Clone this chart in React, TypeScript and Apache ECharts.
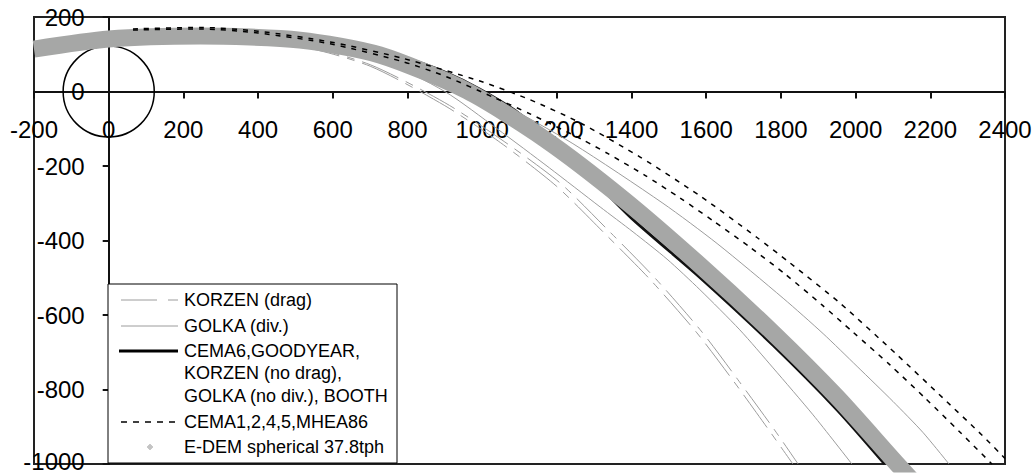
import React, { useEffect, useRef } from "react";
import * as echarts from "echarts";

// Axis ranges (mm)
const X_MIN = -200;
const X_MAX = 2400;
const X_STEP = 200;
const Y_MIN = -1000;
const Y_MAX = 200;
const Y_STEP = 200;

// Pulley outline: centre x, centre y, radius
const pulley = [[0, 0, 122]];

// KORZEN (drag) – two trajectories
const korzenDragA = [
  [0, 136], [245, 143], [512, 121], [700, 68], [900, -38], [1050, -138], [1200, -255],
  [1325, -378], [1450, -505], [1575, -648], [1672, -776], [1765, -905], [1832, -1000],
];
const korzenDragB = [
  [0, 138], [245, 145], [512, 124], [700, 72], [900, -30], [1050, -128], [1208, -245],
  [1337, -372], [1463, -501], [1589, -646], [1685, -774], [1779, -903], [1846, -1000],
];

// GOLKA (div.) – two trajectories
const golkaDivA = [
  [0, 138], [245, 146], [512, 130], [726, 85], [900, 0], [1040, -100], [1180, -205],
  [1316, -310], [1404, -377], [1495, -450], [1583, -532], [1690, -640], [1779, -742],
  [1886, -868], [1990, -1000],
];
const golkaDivB = [
  [0, 150], [245, 158], [512, 146], [750, 100], [900, 40], [1048, -30], [1243, -140],
  [1484, -300], [1629, -408], [1806, -555], [1913, -650], [2004, -738], [2100, -832],
  [2180, -915], [2250, -1000],
];

// CEMA6, GOODYEAR, KORZEN (no drag), GOLKA (no div.), BOOTH
const cema6 = [
  [0, 145], [245, 153], [512, 145], [646, 125], [800, 88], [900, 52], [994, 6],
  [1100, -60], [1250, -190], [1400, -340], [1583, -499], [1779, -681], [1950, -854],
  [2078, -1000],
];

// CEMA1,2,4,5, MHEA86 – two trajectories
const cemaDashedA = [
  [65, 168], [245, 172], [400, 162], [593, 133], [788, 89], [994, 28], [1128, -22],
  [1262, -84], [1423, -176], [1583, -280], [1736, -392], [1824, -460], [1958, -568],
  [2111, -707], [2234, -823], [2338, -922], [2400, -985],
];
const cemaDashedB = [
  [65, 165], [245, 168], [400, 157], [593, 128], [788, 80], [906, 39], [1029, -15],
  [1128, -60], [1270, -130], [1337, -167], [1436, -225], [1530, -286], [1618, -347],
  [1717, -418], [1811, -490], [1910, -573], [1993, -646], [2092, -734], [2186, -823],
  [2279, -914], [2365, -1000],
];

// E-DEM spherical 37.8tph – centre of the particle cloud
const edem = [
  [-200, 114], [0, 141], [245, 149], [512, 138], [726, 98], [959, 2], [1168, -128],
  [1377, -288], [1583, -466], [1779, -648], [1950, -820], [2111, -1000], [2180, -1075],
];

const legendLabels = [
  "KORZEN (drag)",
  "GOLKA (div.)",
  "CEMA6,GOODYEAR,",
  "KORZEN (no drag),",
  "GOLKA (no div.), BOOTH",
  "CEMA1,2,4,5,MHEA86",
  "E-DEM spherical 37.8tph",
];

const FONT = '"Liberation Sans", Arial, sans-serif';
const GRAY_LINE = "#9c9c9c";
const BAND = "#a6a7a6";

export default function App() {
  const ref = useRef<HTMLDivElement>(null);

  useEffect(() => {
    document.body.style.margin = "0";
    if (!ref.current) return;
    const chart = echarts.init(ref.current, null, { renderer: "svg" });

    const lineSeries = (name: string, data: number[][], lineStyle: any) => ({
      name,
      type: "line",
      data,
      symbol: "none",
      showSymbol: false,
      smooth: 0.25,
      lineStyle,
      silent: true,
    });

    const lx1 = 121;
    const lx2 = 178;
    const tx = 184;
    const legendGraphics: any[] = [
      {
        type: "rect",
        shape: { x: 108, y: 284, width: 289, height: 179 },
        style: { fill: "#fff", stroke: "#000", lineWidth: 1 },
        z: 100,
      },
      {
        type: "line",
        shape: { x1: lx1, y1: 300, x2: lx2, y2: 300 },
        style: { stroke: GRAY_LINE, lineWidth: 1, lineDash: [36, 11, 10, 40] },
        z: 101,
      },
      {
        type: "line",
        shape: { x1: lx1, y1: 326, x2: lx2, y2: 326 },
        style: { stroke: GRAY_LINE, lineWidth: 1 },
        z: 101,
      },
      {
        type: "line",
        shape: { x1: 119, y1: 351, x2: lx2, y2: 351 },
        style: { stroke: "#000", lineWidth: 3 },
        z: 101,
      },
      {
        type: "line",
        shape: { x1: lx1, y1: 422, x2: 176, y2: 422 },
        style: { stroke: "#000", lineWidth: 1.5, lineDash: [6, 6] },
        z: 101,
      },
      {
        type: "polygon",
        shape: { points: [[150, 444], [153, 447], [150, 450], [147, 447]] },
        style: { fill: "#c4c4c4", stroke: "#b0b0b0", lineWidth: 0.5 },
        z: 101,
      },
    ];
    const textYs = [300, 326, 351, 373, 396, 422, 447];
    legendLabels.forEach((t, i) => {
      legendGraphics.push({
        type: "text",
        x: tx,
        y: textYs[i],
        style: {
          text: t,
          fontFamily: FONT,
          fontSize: 18,
          fill: "#000",
          verticalAlign: "middle",
          align: "left",
        },
        z: 102,
      });
    });

    const axisLineStyle = { color: "#111", width: 2 };
    const plain = (v: number) => String(v);
    const yLabel = (v: number) => (v === Y_MIN ? "{low|" + v + "}" : String(v));

    chart.setOption({
      animation: false,
      backgroundColor: "#fff",
      grid: {
        left: 34,
        right: 29,
        top: 17,
        bottom: 11,
        show: true,
        borderColor: "#222",
        borderWidth: 2,
        containLabel: false,
        outerBoundsMode: "none",
      },
      xAxis: {
        type: "value",
        min: X_MIN,
        max: X_MAX,
        interval: X_STEP,
        offset: 0,
        axisLine: { show: true, onZero: false, lineStyle: axisLineStyle },
        axisTick: { show: true, length: 7, lineStyle: axisLineStyle },
        axisLabel: { color: "#000", fontFamily: FONT, fontSize: 24, margin: 26, formatter: plain },
        splitLine: { show: false },
      },
      yAxis: {
        type: "value",
        min: Y_MIN,
        max: Y_MAX,
        interval: Y_STEP,
        offset: 0,
        axisLine: { show: true, onZero: false, lineStyle: axisLineStyle },
        axisTick: { show: true, length: 6, lineStyle: axisLineStyle },
        axisLabel: {
          color: "#000",
          fontFamily: FONT,
          fontSize: 24,
          lineHeight: 18,
          margin: 24,
          formatter: yLabel,
          rich: {
            low: {
              fontFamily: FONT,
              fontSize: 24,
              lineHeight: 18,
              color: "#000",
              padding: [0, 0, 6, 0],
            },
          },
        },
        splitLine: { show: false },
      },
      graphic: { elements: legendGraphics },
      series: [
        {
          name: "pulley",
          type: "custom",
          data: pulley,
          silent: true,
          renderItem: (params: any, api: any) => {
            const c = api.coord([api.value(0), api.value(1)]);
            const s = api.size([api.value(2), api.value(2)]);
            return {
              type: "ellipse",
              shape: { cx: c[0], cy: c[1], rx: s[0], ry: s[1] },
              style: { fill: "none", stroke: "#000", lineWidth: 1.5 },
            };
          },
        },
        lineSeries("KORZEN (drag) 1", korzenDragA, { color: GRAY_LINE, width: 1, type: [40, 8, 8, 8] }),
        lineSeries("KORZEN (drag) 2", korzenDragB, { color: GRAY_LINE, width: 1, type: [40, 8, 8, 8] }),
        lineSeries("GOLKA (div.) 1", golkaDivA, { color: GRAY_LINE, width: 1, type: "solid" }),
        lineSeries("GOLKA (div.) 2", golkaDivB, { color: GRAY_LINE, width: 1, type: "solid" }),
        lineSeries("CEMA6,GOODYEAR,KORZEN (no drag),GOLKA (no div.),BOOTH", cema6, {
          color: "#111",
          width: 3,
          type: "solid",
        }),
        lineSeries("E-DEM spherical 37.8tph", edem, { color: BAND, width: 17, type: "solid", cap: "butt" }),
        lineSeries("CEMA1,2,4,5,MHEA86 1", cemaDashedA, { color: "#000", width: 1.5, type: [5, 6] }),
        lineSeries("CEMA1,2,4,5,MHEA86 2", cemaDashedB, { color: "#000", width: 1.5, type: [5, 6] }),
      ],
    });

    // Move both axes (line, ticks and labels) onto the zero lines, via the axes' own scales
    const zeroY = chart.convertToPixel({ yAxisIndex: 0 }, 0) as number;
    const bottomY = chart.convertToPixel({ yAxisIndex: 0 }, Y_MIN) as number;
    const zeroX = chart.convertToPixel({ xAxisIndex: 0 }, 0) as number;
    const leftX = chart.convertToPixel({ xAxisIndex: 0 }, X_MIN) as number;
    chart.setOption({
      xAxis: { offset: zeroY - bottomY },
      yAxis: { offset: leftX - zeroX },
    });

    return () => chart.dispose();
  }, []);

  return <div ref={ref} style={{ width: 1034, height: 475 }} />;
}
